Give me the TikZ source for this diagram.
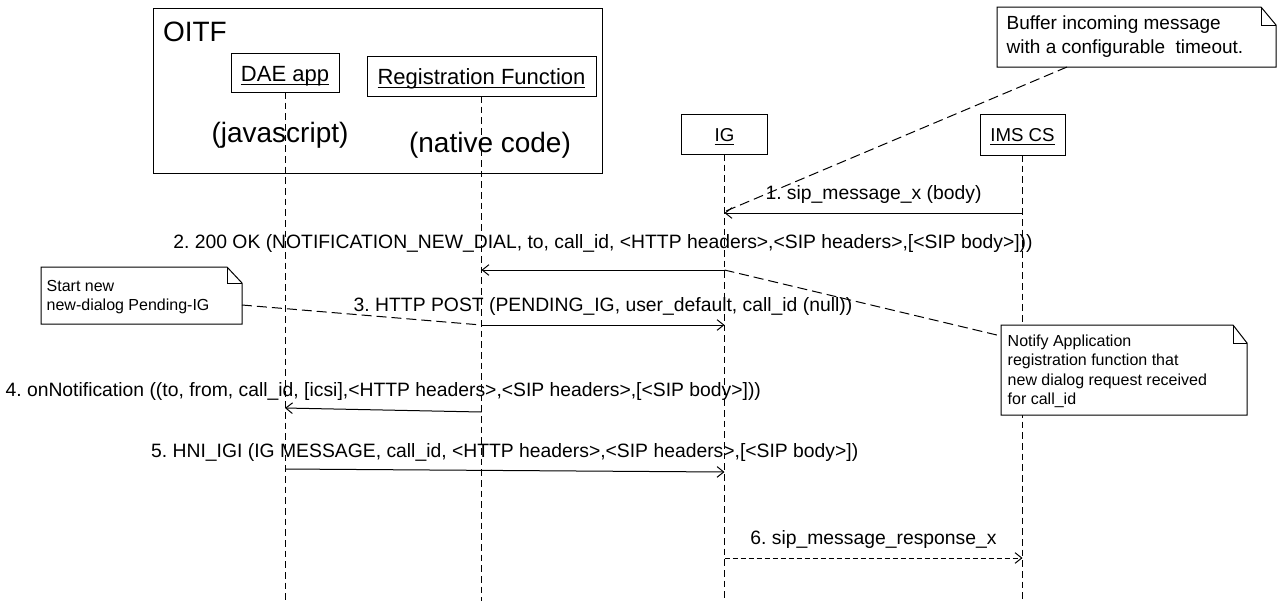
\documentclass[tikz,border=0pt]{standalone}
\usepackage{amsmath}
\usepackage{fontspec}
\setmainfont{Liberation Sans}
\usetikzlibrary{arrows.meta}
\frenchspacing
\newcommand{\ulx}[1]{\underline{\smash[b]{#1}}}
\newcommand{\notefold}[3]{%
  \filldraw[noteline, fill=white] (#1.north west) -- ([xshift=-#2]#1.north east) -- ([yshift=-#3]#1.north east) -- (#1.south east) -- (#1.south west) -- cycle;
  \draw[noteline] ([xshift=-#2]#1.north east) |- ([yshift=-#3]#1.north east);
}
\begin{document}
\begin{tikzpicture}[x=0.75pt,y=-0.75pt,
  every node/.style={inner sep=0pt, outer sep=0pt},
  headbox/.style={draw, line width=0.75pt, fill=white, text depth=0pt},
  lifeline/.style={line width=0.6pt, dash pattern=on 5pt off 3pt},
  noteline/.style={line width=0.75pt},
  notearea/.style={anchor=north west},
  link/.style={line width=0.75pt, dash pattern=on 7.5pt off 3.75pt},
  msg/.style={line width=0.75pt, -{Straight Barb[length=5pt,width=8pt]}},
  reply/.style={msg, dash pattern=on 3.75pt off 2.25pt},
  lbl/.style={anchor=base, font=\fontsize{14.5}{17}\selectfont},
  ntxt/.style={anchor=base west, font=\fontsize{12}{14}\selectfont},
  btxt/.style={anchor=base west, font=\fontsize{14.25}{17}\selectfont},
  bigtxt/.style={font=\fontsize{21}{25}\selectfont}
]
\useasboundingbox (0,0) rectangle (1277,601);
\coordinate (bot) at (0,601);

% OITF container
\node[draw, line width=0.75pt, minimum width=336.75pt, minimum height=123.75pt, anchor=north west] (oitf) at (153,8) {};
\node[anchor=base west, bigtxt] (oitft) at (163,41.7) {OITF};

% lifeline heads
\node[headbox, minimum width=81pt, minimum height=29.25pt, text height=12.75pt, font=\fontsize{16.5}{20}\selectfont] (dae) at (285,72.5) {\ulx{DAE app}};
\node[headbox, minimum width=171.75pt, minimum height=30pt, text height=12pt, font=\fontsize{16.5}{20}\selectfont] (reg) at (481.5,76) {\ulx{Registration Function}};
\node[headbox, minimum width=64.5pt, minimum height=30pt, text height=11.5pt, font=\fontsize{14}{17}\selectfont] (ig) at (724.5,134) {\ulx{IG}};
\node[headbox, minimum width=63.75pt, minimum height=30.75pt, text height=10.8pt, font=\fontsize{14}{17}\selectfont] (ims) at (1022.5,134.5) {\ulx{IMS CS}};

% lifelines
\draw[lifeline] (dae.south) -- (dae |- bot);
\draw[lifeline] (reg.south) -- (reg |- bot);
\draw[lifeline] (ig.south) -- (ig |- bot);
\draw[lifeline] (ims.south) -- (ims |- bot);

\node[anchor=base, bigtxt] (js) at (280,142.4) {(javascript)};
\node[anchor=base, bigtxt] (nc) at (490,152.4) {(native code)};

% notes
\node[notearea, minimum width=209.25pt, minimum height=45pt] (buf) at (997,7) {};
\notefold{buf}{11.25pt}{13.5pt}
\node[btxt] (buf1) at (1006.7,29.3) {Buffer incoming message};
\node[btxt] (buf2) at (1006.7,53.3) {with a configurable\ \ timeout.};

\node[notearea, minimum width=150.75pt, minimum height=42.75pt] (start) at (41,267) {};
\notefold{start}{11.25pt}{12pt}
\node[ntxt] (st1) at (46.7,291.7) {Start new};
\node[ntxt] (st2) at (46.7,310) {new-dialog Pending-IG};

\node[notearea, minimum width=184.5pt, minimum height=67.5pt] (notify) at (1001,325) {};
\notefold{notify}{10.5pt}{13.5pt}
\node[ntxt] (nf1) at (1007.7,346) {Notify Application};
\node[ntxt] (nf2) at (1007.7,365.7) {registration function that};
\node[ntxt] (nf3) at (1007.7,385) {new dialog request received};
\node[ntxt] (nf4) at (1007.7,404) {for call\_id};

% message rows
\coordinate (r1) at (0,213);
\coordinate (r2) at (0,270);
\coordinate (r3) at (0,325);
\coordinate (r4a) at (0,412);
\coordinate (r4b) at (0,408);
\coordinate (r5a) at (0,469);
\coordinate (r5b) at (0,472);
\coordinate (r6) at (0,558);

% note connectors
\coordinate (bufc) at (1067,67);
\coordinate (c1) at (726,211);
\draw[link] (bufc) -- (c1);
\coordinate (startc) at (242,305);
\draw[link] (startc) -- (reg |- r3);
\coordinate (nfc) at (1001,336);
\draw[link] (ig |- r2) -- (nfc);

% messages
\draw[msg] (ims |- r1) -- node[midway, lbl, yshift=10.5pt] (l1) {1. sip\_message\_x (body)} (ig |- r1);
\draw[msg] (ig |- r2) -- node[midway, lbl, yshift=16.5pt] (l2) {2. 200 OK (NOTIFICATION\_NEW\_DIAL, to, call\_id, <HTTP headers>,<SIP headers>,[<SIP body>]))} (reg |- r2);
\draw[msg] (reg |- r3) -- node[midway, lbl, yshift=10.5pt] (l3) {3. HTTP POST (PENDING\_IG, user\_default, call\_id (null))} (ig |- r3);
\draw[msg] (reg |- r4a) -- node[midway, lbl, yshift=10pt] (l4) {4. onNotification ((to, from, call\_id, [icsi],<HTTP headers>,<SIP headers>,[<SIP body>]))} (dae |- r4b);
\draw[msg] (dae |- r5a) -- node[midway, lbl, yshift=10pt] (l5) {5. HNI\_IGI (IG MESSAGE, call\_id, <HTTP headers>,<SIP headers>,[<SIP body>])} (ig |- r5b);
\draw[reply] (ig |- r6) -- node[midway, lbl, yshift=10.5pt] (l6) {6. sip\_message\_response\_x} (ims |- r6);
\end{tikzpicture}
\end{document}
